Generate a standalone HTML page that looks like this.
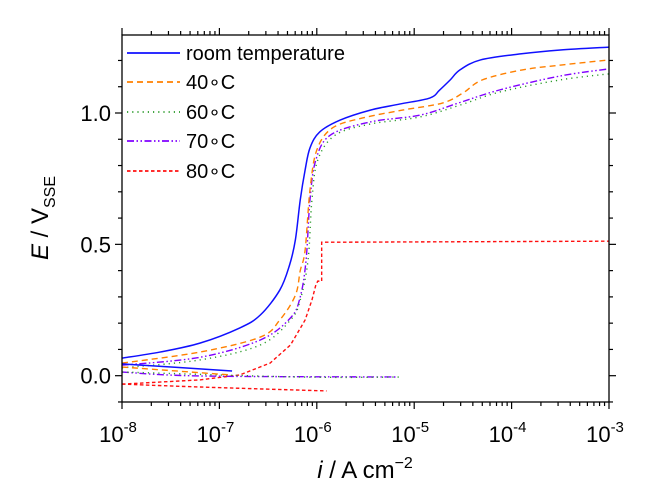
<!DOCTYPE html>
<html><head><meta charset="utf-8"><style>
html,body{margin:0;padding:0;background:#fff}
svg{display:block;font-family:"Liberation Sans",sans-serif}
</style></head><body>
<svg id="chart" width="654" height="503" xmlns="http://www.w3.org/2000/svg"></svg>
<script>
const xTicks = [-8,-7,-6,-5,-4,-3];
const yTickLabels = ["0.0","0.5","1.0"];
const yTickValues = [0,0.5,1.0];
const seriesNames = ["room temperature","40\u2218C","60\u2218C","70\u2218C","80\u2218C"];
const rtLogI = [-8,-7.61,-7.2,-6.79,-6.58,-6.38,-6.28,-6.22,-6.17,-6.12,-6.07,-5.97,-5.76,-5.45,-5.15,-4.84,-4.74,-4.63,-4.53,-4.32,-3.91,-3.5,-3.0];
const rtE = [0.067,0.09,0.124,0.182,0.231,0.326,0.421,0.517,0.669,0.783,0.867,0.928,0.973,1.011,1.034,1.057,1.087,1.126,1.164,1.202,1.225,1.24,1.251];
const rtCathLogI = [-8,-6.87];
const rtCathE = [0.045,0.018];
const t40LogI = [-8,-7.2,-6.58,-6.38,-6.22,-6.17,-6.12,-6.07,-6.0,-5.84,-5.53,-5.12,-4.71,-4.5,-4.3,-3.89,-3.48,-3.0];
const t40E = [0.048,0.09,0.147,0.212,0.306,0.40,0.478,0.707,0.859,0.943,0.981,1.011,1.038,1.076,1.126,1.164,1.183,1.202];
const t40CathLogI = [-8,-6.89];
const t40CathE = [0.033,0.003];
const t60LogI = [-8,-7.2,-6.58,-6.27,-6.17,-6.09,-6.05,-5.99,-5.81,-5.45,-4.94,-4.53,-4.12,-3.5,-3.0];
const t60E = [0.03,0.06,0.117,0.212,0.288,0.44,0.669,0.821,0.916,0.958,0.985,1.03,1.08,1.126,1.149];
const t60CathLogI = [-8,-6.17,-5.15];
const t60CathE = [0.014,-0.005,-0.005];
const t70LogI = [-8,-7.2,-6.58,-6.27,-6.17,-6.11,-6.07,-6.01,-5.86,-5.45,-4.94,-4.53,-4.12,-3.5,-3.0];
const t70E = [0.04,0.07,0.136,0.22,0.3,0.44,0.669,0.821,0.916,0.966,0.992,1.04,1.088,1.141,1.168];
const t70CathLogI = [-8,-7.2,-5.17];
const t70CathE = [0.014,-0.001,-0.005];
const t80LogI = [-8,-7.2,-6.79,-6.48,-6.27,-6.12,-6.05,-6.01,-5.99,-5.95,-5.95,-3.0];
const t80E = [-0.032,-0.016,0.003,0.048,0.117,0.212,0.288,0.345,0.36,0.36,0.508,0.512];
const t80CathLogI = [-8,-7.2,-5.9];
const t80CathE = [-0.032,-0.043,-0.058];

const X0=122,X1=609,Y0=402,Y1=35;
const xs = v => X0 + (v+8)/5*(X1-X0);
const ys = v => 375.7 - v*262.7;
const svg = document.getElementById('chart');
const NS="http://www.w3.org/2000/svg";
function mk(tag, attrs, parent){const e=document.createElementNS(NS,tag);for(const k in attrs)e.setAttribute(k,attrs[k]);(parent||svg).appendChild(e);return e;}
function smooth(pts){
 let d='M'+pts[0][0]+','+pts[0][1];
 for(let i=0;i<pts.length-1;i++){
  const p0=pts[Math.max(0,i-1)],p1=pts[i],p2=pts[i+1],p3=pts[Math.min(pts.length-1,i+2)];
  const c1=[p1[0]+(p2[0]-p0[0])/6,p1[1]+(p2[1]-p0[1])/6];
  const c2=[p2[0]-(p3[0]-p1[0])/6,p2[1]-(p3[1]-p1[1])/6];
  d+=' C'+c1[0]+','+c1[1]+' '+c2[0]+','+c2[1]+' '+p2[0]+','+p2[1];
 }
 return d;
}
function straight(pts){return 'M'+pts.map(p=>p[0]+','+p[1]).join(' L');}

const styles=[
 {c:"#1010ff",d:"",w:1.5},
 {c:"#ff8000",d:"6,4",w:1.4},
 {c:"#2a9a2a",d:"1.2,4",w:1.4},
 {c:"#8000ff",d:"7,2.5,1.5,2.5,1.5,2.5",w:1.4},
 {c:"#ff1010",d:"3.5,2.5",w:1.4}
];
const data=[[rtLogI,rtE,rtCathLogI,rtCathE],[t40LogI,t40E,t40CathLogI,t40CathE],[t60LogI,t60E,t60CathLogI,t60CathE],[t70LogI,t70E,t70CathLogI,t70CathE],[t80LogI,t80E,t80CathLogI,t80CathE]];
const slug=["room-temp","40c","60c","70c","80c"];
const defs=mk('defs',{});const cp=mk('clipPath',{id:'cp'},defs);mk('rect',{x:X0,y:Y1,width:X1-X0,height:Y0-Y1},cp);
for(let s=4;s>=0;s--){
 const [a,b,c,d]=data[s];
 const pa=a.map((v,i)=>[xs(v),ys(b[i])]);
 const pc=c.map((v,i)=>[xs(v),ys(d[i])]);
 const p1=mk('path',{d:s===4?straight(pa):smooth(pa),fill:'none',stroke:styles[s].c,'stroke-width':styles[s].w,'stroke-dasharray':styles[s].d,'clip-path':'url(#cp)'});
 
 
 const p2=mk('path',{d:smooth(pc),fill:'none',stroke:styles[s].c,'stroke-width':styles[s].w,'stroke-dasharray':styles[s].d,'clip-path':'url(#cp)'});
 
 
}
const fr=mk('rect',{x:X0,y:Y1,width:X1-X0,height:Y0-Y1,fill:'none',stroke:'#000','stroke-width':1.3});


for(let k=-8;k<=-3;k++){
 for(let m=1;m<10;m++){
  if(k===-3&&m>1)break;
  const x=xs(k+Math.log10(m));const L=m===1?7:4;
  mk('line',{x1:x,x2:x,y1:Y0,y2:Y0+L,stroke:'#000','stroke-width':1.2});
  mk('line',{x1:x,x2:x,y1:Y1,y2:Y1-L,stroke:'#000','stroke-width':1.2});
 }
}
xTicks.forEach(v=>{
 const t=mk('text',{x:xs(v)-4,y:442,'font-size':22,'text-anchor':'middle'});
 
 
 t.textContent='10';
 const s=mk('tspan',{dy:-10,'font-size':15},t);s.textContent='-'+(-v);
});
for(let i=-1;i<=12;i++){
 const v=i/10;const y=ys(v);const L=(i%5===0)?7:4;
 mk('line',{x1:X0,x2:X0-L,y1:y,y2:y,stroke:'#000','stroke-width':1.2});
 mk('line',{x1:X1,x2:X1+L,y1:y,y2:y,stroke:'#000','stroke-width':1.2});
}
yTickValues.forEach((v,i)=>{
 const t=mk('text',{x:111,y:ys(v)+8,'font-size':22,'text-anchor':'end'});
 
 
 t.textContent=yTickLabels[i];
});
const xt=mk('text',{x:365,y:478,'font-size':24,'text-anchor':'middle'});


xt.innerHTML='<tspan font-style="italic">i</tspan> / A cm<tspan dy="-10" font-size="16">\u22122</tspan>';
const yt=mk('text',{x:0,y:0,'font-size':24,'text-anchor':'middle',transform:'translate(48,218) rotate(-90)'});


yt.innerHTML='<tspan font-style="italic">E</tspan> / V<tspan dy="7" font-size="16">SSE</tspan>';
const ly=[53,82,112,141,171];
seriesNames.forEach((n,s)=>{
 const g=mk('g',{});
 
 
 mk('line',{x1:127,x2:180,y1:ly[s],y2:ly[s],stroke:styles[s].c,'stroke-width':styles[s].w+0.3,'stroke-dasharray':styles[s].d},g);
 const t=mk('text',{x:186,y:ly[s]+7,'font-size':20},g);t.textContent=n;
});
</script>
</body></html>
